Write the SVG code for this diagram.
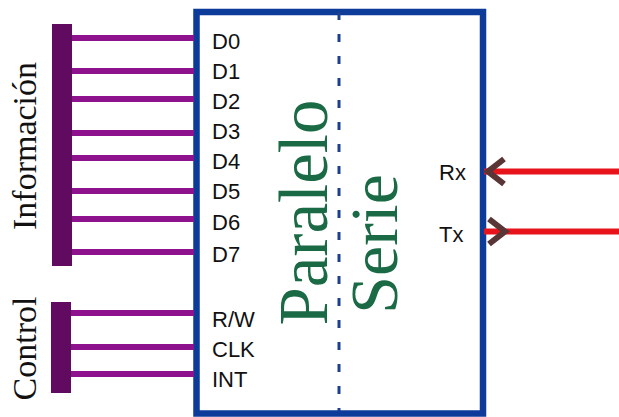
<svg xmlns="http://www.w3.org/2000/svg" width="619" height="417" viewBox="0 0 619 417">
<style>
.bus{fill:#600a60}
.wire{stroke:#8e118e;stroke-width:6;fill:none}
.lbl{font-family:"Liberation Sans",Arial,sans-serif;font-size:22px;fill:#111}
.side{font-family:"Liberation Serif","Times New Roman",serif;font-size:34px;fill:#111}
.big{font-family:"Liberation Serif","Times New Roman",serif;font-size:69px;fill:#1a6a45}
.red{stroke:#e8141c;stroke-width:6;fill:none}
.chev{stroke:#5a3535;stroke-width:6;fill:none;stroke-linejoin:miter}
</style>
<rect width="619" height="417" fill="#ffffff"/>
<g id="converter">
<rect x="196.5" y="12" width="286.5" height="401.5" fill="#ffffff" stroke="#0d3b99" stroke-width="6.5"/>
<line x1="339" y1="12" x2="339" y2="411" stroke="#1e3f8f" stroke-width="3" stroke-dasharray="8 14"/>
<text class="big" transform="translate(327,212.5) rotate(-90)" text-anchor="middle">Paralelo</text>
<text class="big" transform="translate(397,244) rotate(-90)" text-anchor="middle" style="font-size:68px">Serie</text>
<text class="lbl" x="212" y="49">D0</text>
<text class="lbl" x="212" y="79">D1</text>
<text class="lbl" x="212" y="109">D2</text>
<text class="lbl" x="212" y="139">D3</text>
<text class="lbl" x="212" y="169">D4</text>
<text class="lbl" x="212" y="199">D5</text>
<text class="lbl" x="212" y="230">D6</text>
<text class="lbl" x="212" y="262">D7</text>
<text class="lbl" x="212" y="327">R/W</text>
<text class="lbl" x="212" y="357">CLK</text>
<text class="lbl" x="212" y="387">INT</text>
<text class="lbl" x="439" y="180">Rx</text>
<text class="lbl" x="439" y="242">Tx</text>
</g>
<g id="informacion">
<rect class="bus" x="52" y="24" width="20" height="242"/>
<text class="side" transform="translate(36,146) rotate(-90)" text-anchor="middle">Información</text>
</g>
<g id="control">
<rect class="bus" x="51" y="302" width="20" height="91"/>
<text class="side" transform="translate(36,348.5) rotate(-90)" text-anchor="middle">Control</text>
</g>
<g id="connectors">
<line class="wire" x1="72" y1="38" x2="194" y2="38"/>
<line class="wire" x1="72" y1="71" x2="194" y2="71"/>
<line class="wire" x1="72" y1="99" x2="194" y2="99"/>
<line class="wire" x1="72" y1="133" x2="194" y2="133"/>
<line class="wire" x1="72" y1="158" x2="194" y2="158"/>
<line class="wire" x1="72" y1="191" x2="194" y2="191"/>
<line class="wire" x1="72" y1="219" x2="194" y2="219"/>
<line class="wire" x1="72" y1="252" x2="194" y2="252"/>
<line class="wire" x1="71" y1="313" x2="194" y2="313"/>
<line class="wire" x1="71" y1="347" x2="194" y2="347"/>
<line class="wire" x1="71" y1="374" x2="194" y2="374"/>
<line class="red" x1="484" y1="171.5" x2="619" y2="171.5"/>
<line class="red" x1="484" y1="231.5" x2="619" y2="231.5"/>
<polyline class="chev" points="504,159 488,171.5 504,184"/>
<polyline class="chev" points="489,219 505,231.5 489,244"/>
</g>
</svg>
